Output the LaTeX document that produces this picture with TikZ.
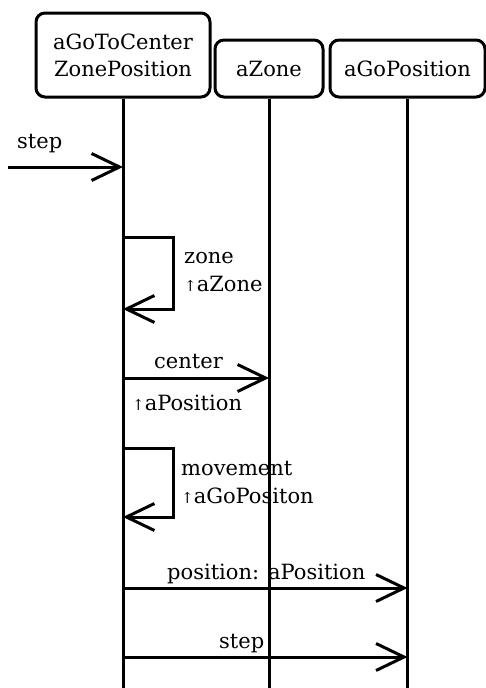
\documentclass[tikz,border=0pt]{standalone}
\usepackage{fontspec}
\setmainfont{DejaVu Serif}
\usetikzlibrary{arrows.meta}
\begin{document}
\begin{tikzpicture}[x=1pt,y=-1pt,
  obj/.style={draw,line width=3pt,rounded corners=9pt,inner sep=0pt,align=center,
    font=\fontsize{21}{27}\selectfont},
  life/.style={line width=3pt},
  msg/.style={line width=3pt,-{Straight Barb[length=28pt,width=27pt,line width=3pt]}},
  lbl/.style={inner sep=0pt,anchor=base west,font=\fontsize{21}{27}\selectfont},
  up/.style={}]
\useasboundingbox (0,0) rectangle (486,688);
% objects
\node[obj,minimum width=174pt,minimum height=84pt] (b1) at (123,55) {aGoToCenter\\ZonePosition};
\node[obj,minimum width=108pt,minimum height=57pt] (b2) at (269,68.5) {aZone};
\node[obj,minimum width=155pt,minimum height=57pt] (b3) at (407.5,68.5) {aGoPosition};
% lifelines
\coordinate (e1) at (b1.south |- 0,690);
\coordinate (e2) at (b2.south |- 0,690);
\coordinate (e3) at (b3.south |- 0,690);
\draw[life] (b1.south) -- (e1);
\draw[life] (b2.south) -- (e2);
\draw[life] (b3.south) -- (e3);
% message points
\coordinate (in) at (8,167);
\coordinate (m0) at (b1.south |- 0,167);
\coordinate (z1) at (b1.south |- 0,237);
\coordinate (z2) at (b1.south |- 0,309);
\coordinate (c1) at (b1.south |- 0,378);
\coordinate (c2) at (b2.south |- 0,378);
\coordinate (v1) at (b1.south |- 0,448);
\coordinate (v2) at (b1.south |- 0,517);
\coordinate (p1) at (b1.south |- 0,588);
\coordinate (p2) at (b3.south |- 0,588);
\coordinate (s1) at (b1.south |- 0,657);
\coordinate (s2) at (b3.south |- 0,657);
% messages
\draw[msg] (in) -- (m0);
\draw[msg] (z1) -- ++(50,0) |- (z2);
\draw[msg] (c1) -- (c2);
\draw[msg] (v1) -- ++(50,0) |- (v2);
\draw[msg] (p1) -- (p2);
\draw[msg] (s1) -- (s2);
% labels
\node[lbl] (t1) at (17,148) {step};
\node[lbl] (t2) at (184,263) {zone};
\node[lbl] (t3) at (184,291) {{\fontsize{15}{15}\selectfont ↑}aZone};
\node[lbl] (t4) at (154,368) {center};
\node[lbl] (t5) at (132,410) {{\fontsize{15}{15}\selectfont ↑}aPosition};
\node[lbl] (t6) at (181,475) {movement};
\node[lbl] (t7) at (181,503) {{\fontsize{15}{15}\selectfont ↑}aGoPositon};
\node[lbl] (t8) at (167,579) {position: aPosition};
\node[lbl] (t9) at (219,648) {step};
\end{tikzpicture}
\end{document}
